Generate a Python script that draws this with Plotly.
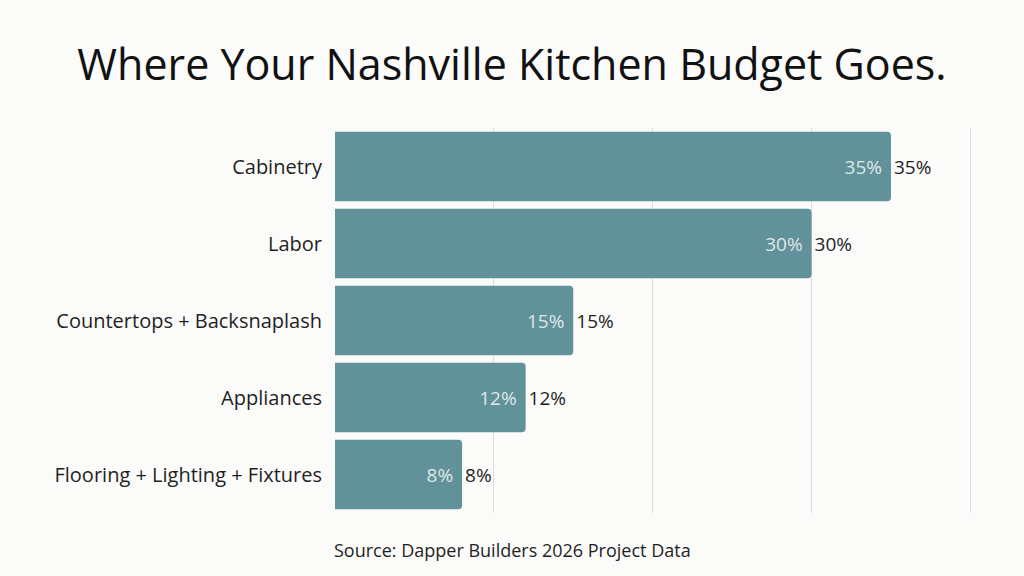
import plotly.graph_objects as go

categories = ["Cabinetry", "Labor", "Countertops + Backsnaplash", "Appliances",
              "Flooring + Lighting + Fixtures"]
shares = [35, 30, 15, 12, 8]
labels = [f"{v}%" for v in shares]

title_text = "Where Your Nashville Kitchen Budget Goes."
source_text = "Source: Dapper Builders 2026 Project Data"

BAR = "#61929a"
BG = "#fbfbfa"
FONT = "Open Sans"

fig = go.Figure()

# bars with the light label inside the tip
fig.add_trace(go.Bar(
    y=categories, x=shares, orientation="h",
    marker=dict(color=BAR, line=dict(width=0)),
    text=[t + "\u00a0" for t in labels], textposition="inside", insidetextanchor="end",
    textfont=dict(color="rgba(255,255,255,0.8)", size=19, family=FONT),
    cliponaxis=False, showlegend=False, hoverinfo="skip",
))

# invisible copy of the bars, only there to carry the dark outside label
fig.add_trace(go.Bar(
    y=categories, x=shares, orientation="h",
    marker=dict(color="rgba(0,0,0,0)", line=dict(width=0)),
    text=labels, textposition="outside",
    textfont=dict(color="#1f1f1f", size=19, family=FONT),
    cliponaxis=False, showlegend=False, hoverinfo="skip",
))

fig.update_xaxes(range=[0, 40.1], dtick=10, showticklabels=False,
                 showgrid=True, gridcolor="#dcdcdc", gridwidth=1,
                 zeroline=False, showline=False, fixedrange=True)
fig.update_yaxes(autorange="reversed", showgrid=False, showline=False,
                 ticks="", ticklabelstandoff=12, fixedrange=True,
                 tickfont=dict(size=20, color="#1f1f1f", family=FONT))

# source line, centred on the page rather than the plot area
fig.add_annotation(text=source_text, x=0.278, y=-0.096, xref="paper", yref="paper",
                   xanchor="center", yanchor="middle", showarrow=False,
                   font=dict(size=18, color="#1f1f1f", family=FONT))

fig.update_layout(
    width=1024, height=576,
    paper_bgcolor=BG, plot_bgcolor=BG,
    title=dict(text=title_text, x=0.5, xanchor="center", y=0.887, yanchor="middle",
               font=dict(size=43, color="#111111", family=FONT, weight=500)),
    margin=dict(l=335, r=52, t=128, b=63),
    barmode="overlay", bargap=0.1, barcornerradius=4,
    uniformtext=dict(mode=False),
)

fig.write_html("out.html", config={"displayModeBar": False},
               post_script="document.body.style.margin='0';")
